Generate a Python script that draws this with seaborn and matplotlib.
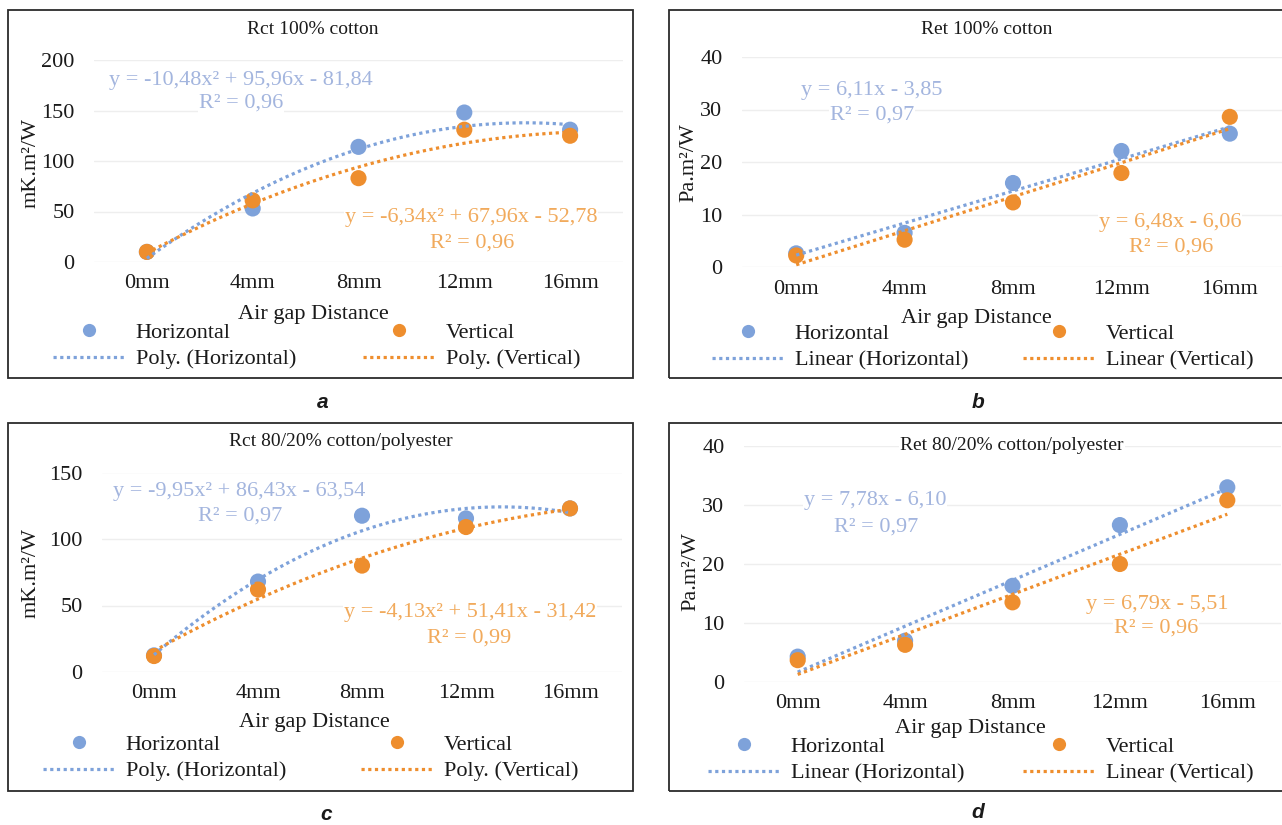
import numpy as np
import matplotlib
matplotlib.use("Agg")
import matplotlib.pyplot as plt
from matplotlib.lines import Line2D
from matplotlib.legend import Legend
from matplotlib.patches import Rectangle
import seaborn as sns

# ---------------------------------------------------------------- data
gaps = ["0mm", "4mm", "8mm", "12mm", "16mm"]

rct_cotton_h = [10, 53, 114, 148, 131]
rct_cotton_v = [10, 61, 83, 131, 125]
ret_cotton_h = [2.6, 6.5, 16.0, 22.1, 25.4]
ret_cotton_v = [2.2, 5.2, 12.3, 17.9, 28.6]
rct_blend_h = [12.5, 68, 117.5, 115.5, 123]
rct_blend_v = [12, 62, 80, 109, 123]
ret_blend_h = [4.3, 7.0, 16.3, 26.6, 33.0]
ret_blend_v = [3.7, 6.3, 13.5, 20.0, 30.8]

# trendline coefficients, highest power first (x = 1..5 along the gap axis)
rct_cotton_fit_h = [-10.48, 95.96, -81.84]
rct_cotton_fit_v = [-6.34, 67.96, -52.78]
ret_cotton_fit_h = [6.11, -3.85]
ret_cotton_fit_v = [6.48, -6.06]
rct_blend_fit_h = [-9.95, 86.43, -63.54]
rct_blend_fit_v = [-4.13, 51.41, -31.42]
ret_blend_fit_h = [7.78, -6.10]
ret_blend_fit_v = [6.79, -5.51]

r2_values = {"a": (0.96, 0.96), "b": (0.97, 0.96), "c": (0.97, 0.99), "d": (0.97, 0.96)}

titles = {"a": "Rct 100% cotton", "b": "Ret 100% cotton",
          "c": "Rct 80/20% cotton/polyester", "d": "Ret 80/20% cotton/polyester"}
units = {"a": "mK.m²/W", "b": "Pa.m²/W", "c": "mK.m²/W", "d": "Pa.m²/W"}
y_ticks = {"a": [0, 50, 100, 150, 200], "b": [0, 10, 20, 30, 40],
           "c": [0, 50, 100, 150], "d": [0, 10, 20, 30, 40]}
x_title = "Air gap Distance"

# ---------------------------------------------------------------- style
BLUE = "#7ea2da"
ORANGE = "#ee8e2e"
BLUE_TXT = "#a3b5de"
ORANGE_TXT = "#f1aa5c"
GRID = "#eeeeee"
FS = 16

sns.set_theme(style="white")
plt.rcParams["font.family"] = ["Liberation Serif", "DejaVu Serif"]
plt.rcParams["mathtext.fontset"] = "stix"

W, H = 1282, 825
fig = plt.figure(figsize=(W / 100, H / 100), dpi=100)
fig.patch.set_facecolor("white")


def fx(x):
    return x / W


def fy(y):
    return 1 - y / H


def num(v):
    return f"{abs(v):.2f}".replace(".", ",")


def equation(c):
    if len(c) == 3:
        s = f"y = {'-' if c[0] < 0 else ''}{num(c[0])}x² {'+' if c[1] >= 0 else '-'} {num(c[1])}x"
        s += f" {'+' if c[2] >= 0 else '-'} {num(c[2])}"
    else:
        s = f"y = {'-' if c[0] < 0 else ''}{num(c[0])}x {'+' if c[1] >= 0 else '-'} {num(c[1])}"
    return s


# ---------------------------------------------------------------- layout (pixels)
panels = {
    "a": dict(h=rct_cotton_h, v=rct_cotton_v, fh=rct_cotton_fit_h, fv=rct_cotton_fit_v,
              kind="Poly.", frame=(8, 10, 633, 378), axes=(94, 60, 623, 262),
              title=(313, 30), ylab=(31, 163), xlab=(313, 315),
              eq_h=(241, 80), r2_h=(241, 103), eq_v=(471, 218), r2_v=(472, 243),
              leg=(53, 363, 322), letter=(323, 402)),
    "b": dict(h=ret_cotton_h, v=ret_cotton_v, fh=ret_cotton_fit_h, fv=ret_cotton_fit_v,
              kind="Linear", frame=(669.5, 10, 1295, 378), axes=(742, 57, 1284, 267),
              title=(987, 30), ylab=(689, 163), xlab=(976, 318),
              eq_h=(872, 90), r2_h=(872, 115), eq_v=(1170, 222), r2_v=(1171, 247),
              leg=(712, 1023, 323), letter=(978, 402)),
    "c": dict(h=rct_blend_h, v=rct_blend_v, fh=rct_blend_fit_h, fv=rct_blend_fit_v,
              kind="Poly.", frame=(8, 423, 633, 791), axes=(102, 472.5, 622, 672),
              title=(341, 442), ylab=(31, 573), xlab=(314, 722),
              eq_h=(239, 492), r2_h=(240, 516), eq_v=(470, 613), r2_v=(469, 638),
              leg=(43, 361, 734), letter=(326, 815)),
    "d": dict(h=ret_blend_h, v=ret_blend_v, fh=ret_blend_fit_h, fv=ret_blend_fit_v,
              kind="Linear", frame=(669.5, 423, 1295, 791), axes=(744, 446, 1281, 682),
              title=(1012, 445), ylab=(691, 572), xlab=(970, 728),
              eq_h=(875, 500), r2_h=(876, 527), eq_v=(1157, 605), r2_v=(1156, 628),
              leg=(708, 1023, 736), letter=(978, 813)),
}

pos = np.arange(len(gaps))
x_fit = np.linspace(1, len(gaps), 200)
DOTS = (0, (1, 1.1))

for key, p in panels.items():
    x0, y0, x1, y1 = p["frame"]
    fig.add_artist(Rectangle((fx(x0), fy(y1)), (x1 - x0) / W, (y1 - y0) / H,
                             transform=fig.transFigure, fill=False,
                             edgecolor="#2b2b2b", linewidth=1.3, zorder=0))

    l, t, r, b = p["axes"]
    ax = fig.add_axes([fx(l), fy(b), (r - l) / W, (b - t) / H])
    ax.set_facecolor("none")

    # measured points
    sns.scatterplot(x=pos, y=p["h"], ax=ax, color=BLUE, s=135, edgecolor="none",
                    zorder=3, clip_on=False)
    sns.scatterplot(x=pos, y=p["v"], ax=ax, color=ORANGE, s=135, edgecolor="none",
                    zorder=3.1, clip_on=False)
    # fitted trendlines
    sns.lineplot(x=x_fit - 1, y=np.polyval(p["fh"], x_fit), ax=ax, color=BLUE,
                 linewidth=2.3, linestyle=DOTS, zorder=4)
    sns.lineplot(x=x_fit - 1, y=np.polyval(p["fv"], x_fit), ax=ax, color=ORANGE,
                 linewidth=2.3, linestyle=DOTS, zorder=4.1)

    ticks = y_ticks[key]
    ax.set_xlim(-0.5, len(gaps) - 0.5)
    ax.set_ylim(ticks[0], ticks[-1])
    ax.set_xticks(pos)
    ax.set_xticklabels(gaps)
    ax.set_yticks(ticks)
    ax.set_yticklabels([str(v) for v in ticks])
    ax.tick_params(axis="both", length=0, labelsize=FS, colors="#1a1a1a")
    ax.tick_params(axis="y", pad=14)
    ax.tick_params(axis="x", pad=9)
    ax.grid(False)
    ax.yaxis.grid(True, color=GRID, linewidth=1.0)
    ax.set_axisbelow(True)
    for s in ax.spines.values():
        s.set_visible(False)
    ax.set_xlabel("")
    ax.set_ylabel("")

    tf = fig.transFigure
    white = dict(facecolor="white", edgecolor="none", pad=0.5)
    ax.text(fx(p["title"][0]), fy(p["title"][1]), titles[key], transform=tf,
            ha="center", va="center", fontsize=14, color="#1a1a1a", bbox=white, zorder=2)
    ax.text(fx(p["ylab"][0]), fy(p["ylab"][1]), units[key], transform=tf, rotation=90,
            ha="center", va="center", fontsize=FS, color="#1a1a1a", zorder=2)
    ax.text(fx(p["xlab"][0]), fy(p["xlab"][1]), x_title, transform=tf,
            ha="center", va="center", fontsize=FS, color="#1a1a1a", zorder=2)

    r2h, r2v = r2_values[key]
    for txt, xy, col in [(equation(p["fh"]), p["eq_h"], BLUE_TXT),
                         (f"R² = {num(r2h)}", p["r2_h"], BLUE_TXT),
                         (equation(p["fv"]), p["eq_v"], ORANGE_TXT),
                         (f"R² = {num(r2v)}", p["r2_v"], ORANGE_TXT)]:
        ax.text(fx(xy[0]), fy(xy[1]), txt, transform=tf, ha="center", va="center",
                fontsize=FS, color=col, bbox=white, zorder=2.5)

    # legend: two columns, markers over trendlines
    lx1, lx2, ly = p["leg"]
    for lx, col, name in [(lx1, BLUE, "Horizontal"), (lx2, ORANGE, "Vertical")]:
        handles = [Line2D([], [], marker="o", linestyle="none", color=col,
                          markersize=9.5, markeredgewidth=0),
                   Line2D([], [], color=col, linewidth=2.3, linestyle=DOTS)]
        labels = [name, f"{p['kind']} ({name})"]
        leg = Legend(ax, handles, labels, loc="upper left",
                     bbox_to_anchor=(fx(lx), fy(ly)), bbox_transform=tf,
                     frameon=False, borderpad=0, borderaxespad=0,
                     handlelength=3.27, handletextpad=0.45, labelspacing=0.28,
                     fontsize=FS)
        for tx in leg.get_texts():
            tx.set_color("#1a1a1a")
        ax.add_artist(leg)

    fig.text(fx(p["letter"][0]), fy(p["letter"][1]), key, ha="center", va="center",
             fontsize=15, fontweight="bold", fontstyle="italic",
             family=["Liberation Sans", "DejaVu Sans"], color="#1a1a1a")

fig.savefig("out.png", dpi=100, facecolor="white")
